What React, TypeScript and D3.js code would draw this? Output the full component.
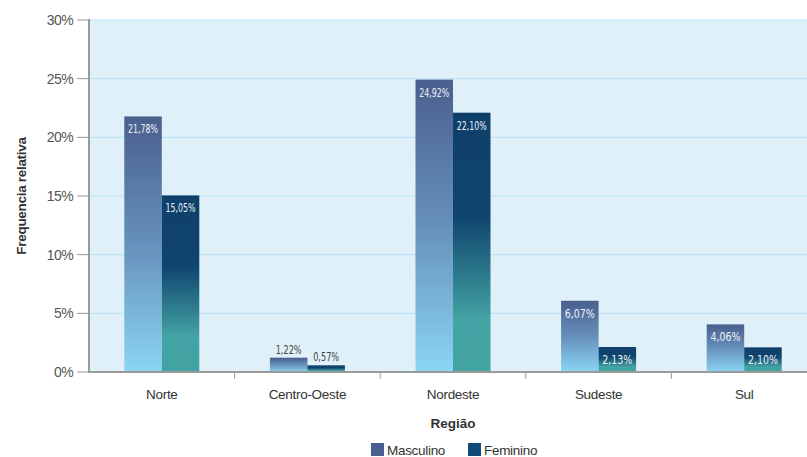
import React from "react";
import * as d3 from "d3";

const categories = ["Norte", "Centro-Oeste", "Nordeste", "Sudeste", "Sul"];
const series = ["Masculino", "Feminino"];
const masculino = [21.78, 1.22, 24.92, 6.07, 4.06];
const feminino = [15.05, 0.57, 22.1, 2.13, 2.1];
const yTicks = [0, 5, 10, 15, 20, 25, 30];

const W = 807;
const H = 457;
const left = 89;
const right = 817;
const top = 20;
const bottom = 372;

export default function App() {
  const x = d3.scaleBand<string>().domain(categories).range([left, right]);
  const y = d3.scaleLinear().domain([0, 30]).range([bottom, top]);
  const barW = 37.5;
  const fmt = (v: number) => v.toFixed(2).replace(".", ",") + "%";
  const data = [masculino, feminino];
  const condensed = "'DejaVu Sans Condensed', 'Liberation Sans Narrow', Arial, sans-serif";
  const sans = "'Liberation Sans', Arial, sans-serif";

  return (
    <svg width={W} height={H} style={{ position: "absolute", left: 0, top: 0 }}>
      <defs>
        <linearGradient id="gM" x1="0" y1="0" x2="0" y2="1">
          <stop offset="0%" stopColor="#4a5f8e" />
          <stop offset="50%" stopColor="#6690bb" />
          <stop offset="100%" stopColor="#8ad5f4" />
        </linearGradient>
        <linearGradient id="gF" x1="0" y1="0" x2="0" y2="1">
          <stop offset="0%" stopColor="#0f3f6b" />
          <stop offset="40%" stopColor="#0f456e" />
          <stop offset="80%" stopColor="#44a3a4" />
          <stop offset="100%" stopColor="#41a3a2" />
        </linearGradient>
      </defs>
      <rect x={0} y={0} width={W} height={H} fill="#ffffff" />
      <rect x={left} y={top} width={W - left} height={bottom - top} fill="#dff0f9" />
      {yTicks.map((t) => (
        <g key={t}>
          {t > 0 && (
            <line x1={left} x2={W} y1={y(t)} y2={y(t)} stroke="#bfe3f5" strokeWidth={1.2} />
          )}
          <line x1={77} x2={left} y1={y(t)} y2={y(t)} stroke="#999" strokeWidth={1} />
          <text x={73} y={y(t) + 5} textAnchor="end" fontFamily={sans} fontSize={14} fill="#555" letterSpacing={-0.6}>
            {t}%
          </text>
        </g>
      ))}
      {categories.map((c, i) => (
        <g key={c}>
          {data.map((arr, s) => {
            const v = arr[i];
            const bx = x(c)! + x.bandwidth() / 2 - barW + s * barW;
            const by = y(v);
            const h = bottom - by;
            const inside = h > 20;
            return (
              <g key={s}>
                <rect x={bx} y={by} width={barW} height={h} fill={s === 0 ? "url(#gM)" : "url(#gF)"} />
                <text
                  x={bx + barW / 2}
                  y={inside ? by + 17 : by - 4}
                  textAnchor="middle"
                  fontFamily={condensed}
                  fontSize={12}
                  fill={inside ? "#eef2f8" : "#444"}
                  textLength={inside ? 30 : 26}
                  lengthAdjust="spacingAndGlyphs"
                >
                  {fmt(v)}
                </text>
              </g>
            );
          })}
          <text x={x(c)! + x.bandwidth() / 2} y={399} textAnchor="middle" fontFamily={sans} fontSize={13.5} fill="#333" letterSpacing={-0.3}>
            {c}
          </text>
          {i > 0 && <line x1={x(c)!} x2={x(c)!} y1={bottom} y2={bottom + 7} stroke="#999" strokeWidth={1} />}
        </g>
      ))}
      <line x1={left} x2={W} y1={bottom} y2={bottom} stroke="#9a9a9a" strokeWidth={2} />
      <line x1={left} x2={left} y1={top - 1} y2={bottom + 1} stroke="#9a9a9a" strokeWidth={2} />
      <text x={453} y={428} textAnchor="middle" fontFamily={sans} fontSize={13.5} fontWeight="bold" fill="#333">
        Região
      </text>
      <text
        transform={`translate(26, ${(top + bottom) / 2}) rotate(-90)`}
        textAnchor="middle"
        fontFamily={sans}
        fontSize={13.5}
        fontWeight="bold"
        fill="#333"
        letterSpacing={-0.3}
      >
        Frequencia relativa
      </text>
      {series.map((s, i) => {
        const lx = [371, 468][i];
        return (
          <g key={s}>
            <rect x={lx} y={443} width={13} height={13} fill={i === 0 ? "#4a5f8e" : "#0f4a7a"} />
            <text x={lx + 16} y={455} fontFamily={sans} fontSize={13.5} fill="#333" letterSpacing={-0.3}>
              {s}
            </text>
          </g>
        );
      })}
    </svg>
  );
}
